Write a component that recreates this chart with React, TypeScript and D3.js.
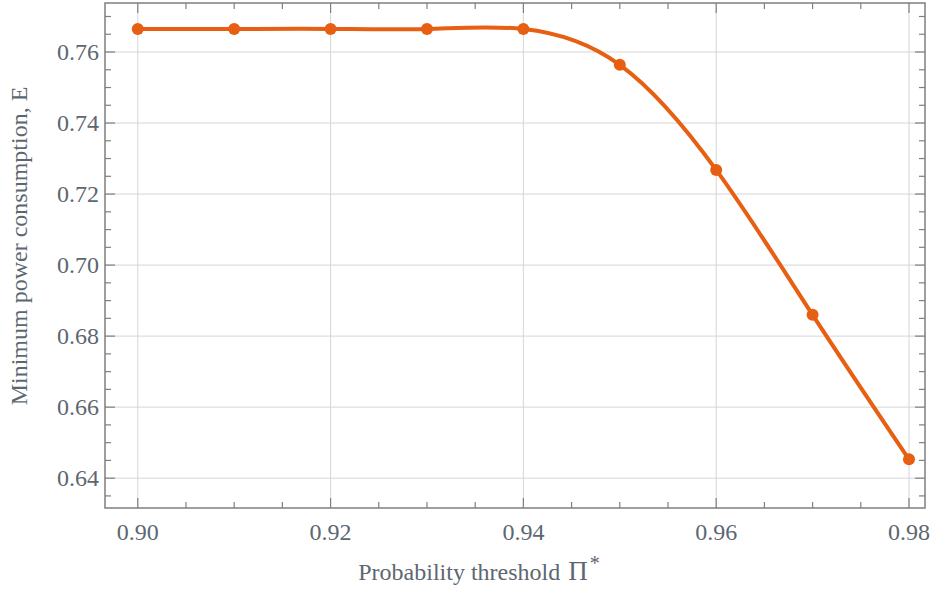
import React from 'react';
import * as d3 from 'd3';

const thresholds = [0.9, 0.91, 0.92, 0.93, 0.94, 0.95, 0.96, 0.97, 0.98];
const energy = [0.7665, 0.7665, 0.7665, 0.7665, 0.7665, 0.7564, 0.7268, 0.686, 0.6453];
const xTicks = [0.9, 0.92, 0.94, 0.96, 0.98];
const yTicks = [0.64, 0.66, 0.68, 0.7, 0.72, 0.74, 0.76];

const W = 934;
const H = 589;
const margin = { top: 3, right: 9, bottom: 81, left: 105 };
const lineColor = '#e65f12';
const textColor = '#5d6771';
const frameColor = '#7f7f7f';
const fontStyle = { fontFamily: "'Liberation Serif', 'DejaVu Serif', serif" };

const App = () => {
  const pw = W - margin.left - margin.right;
  const ph = H - margin.top - margin.bottom;
  const x = d3.scaleLinear().domain([0.8966, 0.98166]).range([0, pw]);
  const y = d3.scaleLinear().domain([0.6316, 0.7738]).range([ph, 0]);

  const xMinor = d3.range(0.9, 0.9816, 0.005).filter(v => v < 0.9816);
  const yMinor = d3.range(0.635, 0.7738, 0.005);

  const pts = thresholds.map((t, i) => [t, energy[i]] as [number, number]);
  const line = d3
    .line<[number, number]>()
    .x(d => x(d[0]))
    .y(d => y(d[1]))
    .curve(d3.curveNatural);

  return (
    <svg width={W} height={H} style={{ position: 'absolute', left: 0, top: 0 }}>
      <rect width={W} height={H} fill="#fff" />
      <g transform={`translate(${margin.left},${margin.top})`}>
        {/* grid */}
        {xTicks.map(t => (
          <line key={'gx' + t} x1={x(t)} x2={x(t)} y1={0} y2={ph} stroke="#d6d6d6" strokeWidth={1} />
        ))}
        {yTicks.map(t => (
          <line key={'gy' + t} x1={0} x2={pw} y1={y(t)} y2={y(t)} stroke="#d6d6d6" strokeWidth={1} />
        ))}

        {/* ticks on all sides */}
        {xMinor.map(t => {
          const major = xTicks.some(m => Math.abs(m - t) < 1e-6);
          const len = major ? 10 : 6;
          return (
            <g key={'tx' + t} stroke={frameColor} strokeWidth={1.2}>
              <line x1={x(t)} x2={x(t)} y1={ph} y2={ph - len} />
              <line x1={x(t)} x2={x(t)} y1={0} y2={len} />
            </g>
          );
        })}
        {yMinor.map(t => {
          const major = yTicks.some(m => Math.abs(m - t) < 1e-6);
          const len = major ? 10 : 6;
          return (
            <g key={'ty' + t} stroke={frameColor} strokeWidth={1.2}>
              <line x1={0} x2={len} y1={y(t)} y2={y(t)} />
              <line x1={pw} x2={pw - len} y1={y(t)} y2={y(t)} />
            </g>
          );
        })}

        <rect x={0} y={0} width={pw} height={ph} fill="none" stroke={frameColor} strokeWidth={1.5} />

        {/* tick labels */}
        {xTicks.map(t => (
          <text key={'lx' + t} x={x(t)} y={ph + 24} textAnchor="middle" dominantBaseline="central"
            style={fontStyle} fontSize={24} fill={textColor}>
            {d3.format('.2f')(t)}
          </text>
        ))}
        {yTicks.map(t => (
          <text key={'ly' + t} x={-6} y={y(t)} textAnchor="end" dominantBaseline="central"
            style={fontStyle} fontSize={24} fill={textColor}>
            {d3.format('.2f')(t)}
          </text>
        ))}

        {/* data */}
        <path d={line(pts) ?? ''} fill="none" stroke={lineColor} strokeWidth={4} />
        {pts.map(p => (
          <circle key={'p' + p[0]} cx={x(p[0])} cy={y(p[1])} r={6} fill={lineColor} />
        ))}
      </g>

      <text x={479} y={580} textAnchor="middle" style={fontStyle} fontSize={24} fill={textColor}>
        Probability threshold<tspan dx={8} fontSize={27}>Π</tspan>
        <tspan dy={-10} dx={2} fontSize={20}>*</tspan>
      </text>
      <text transform={`translate(27,246) rotate(-90)`} textAnchor="middle"
        style={fontStyle} fontSize={24} fill={textColor}>
        Minimum power consumption, E
      </text>
    </svg>
  );
};

export default App;
